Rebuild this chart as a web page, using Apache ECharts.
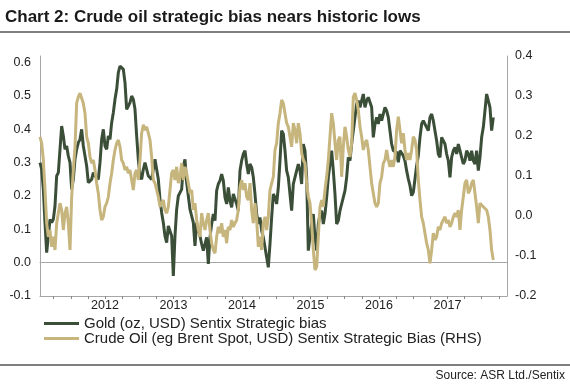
<!DOCTYPE html>
<html>
<head>
<meta charset="utf-8">
<script src="https://cdn.jsdelivr.net/npm/echarts@6/dist/echarts.min.js"></script>
<style>
html,body{margin:0;padding:0;background:#fff;}
#chart{width:570px;height:385px;}
</style>
</head>
<body>
<div id="chart"></div>
<script>
// Time axis: weekly-ish Sentix observations (decimal years), first obs late Jan 2011
const startYear = 2011.051;
const stepYears = 0.024331;
const yearLabels = [2012, 2013, 2014, 2015, 2016, 2017];
const leftTicks = [-0.1, 0.0, 0.1, 0.2, 0.3, 0.4, 0.5, 0.6];
const rightTicks = [-0.2, -0.1, 0.0, 0.1, 0.2, 0.3, 0.4];

const seriesNames = [
  'Gold (oz, USD) Sentix Strategic bias',
  'Crude Oil (eg Brent Spot, USD) Sentix Strategic Bias (RHS)'
];

// Gold strategic bias (LHS)
const goldBias = [
0.30,0.28,0.22,0.12,0.03,0.08,0.13,0.12,0.13,0.17,0.26,0.27,0.34,0.41,0.38,0.34,0.35,0.32,0.30,0.22,
0.25,0.31,0.34,0.36,0.37,0.40,0.35,0.32,0.29,0.24,0.24,0.25,0.27,0.26,0.26,0.25,0.30,0.37,0.40,0.35,
0.34,0.38,0.37,0.42,0.45,0.49,0.52,0.57,0.59,0.59,0.58,0.54,0.46,0.47,0.48,0.50,0.49,0.46,0.38,0.31,
0.26,0.25,0.28,0.30,0.28,0.26,0.26,0.25,0.28,0.31,0.28,0.25,0.19,0.15,0.12,0.08,0.06,0.11,0.11,0.08,
-0.04,0.08,0.16,0.20,0.21,0.22,0.29,0.31,0.24,0.20,0.16,0.14,0.12,0.05,0.12,0.10,0.08,
0.056,0.036,0.056,0.076,-0.004,0.076,0.116,0.146,0.126,0.216,0.236,0.246,0.266,0.246,0.196,0.176,0.226,0.186,0.166,0.206,
0.206,0.176,0.156,0.276,0.306,0.326,0.336,0.296,0.266,0.296,0.286,0.256,0.206,0.146,0.116,0.136,0.096,0.076,0.046,0.016,
-0.014,0.056,0.136,0.206,0.196,0.176,0.226,0.306,0.396,0.386,0.336,0.276,0.256,0.256,0.156,0.236,0.256,0.276,0.296,0.276,
0.236,0.356,0.336,0.256,0.036,0.036,0.116,0.146,0.076,0.036,0.116,0.146,0.156,0.116,0.146,0.196,0.256,0.296,0.336,0.276,
0.206,0.116,0.126,0.156,0.176,0.176,0.216,0.256,0.316,0.306,
0.356,0.396,0.436,0.476,0.486,0.466,0.486,0.506,0.466,0.486,0.496,0.496,0.466,0.376,0.416,0.436,0.416,0.446,0.426,0.446,
0.466,0.456,0.436,0.396,0.356,0.336,0.341,0.331,0.301,0.336,0.331,0.321,0.306,0.276,0.251,0.231,0.201,0.211,0.251,0.291,
0.321,0.376,0.416,0.426,0.426,0.406,0.396,0.436,0.446,0.426,0.396,0.366,0.326,0.316,0.376,0.376,0.356,0.326,0.306,0.256,
0.316,0.336,0.346,0.326,0.356,0.336,0.316,0.296,0.306,0.336,0.326,0.306,0.336,0.306,0.296,0.336,0.276,0.316,0.376,0.406,
0.456,0.506,0.486,0.466,0.396,0.436
];

// Crude oil strategic bias (RHS)
const oilBias = [
0.198,0.182,0.140,0.065,-0.018,-0.052,-0.035,-0.077,-0.052,-0.085,-0.018,0.007,0.032,0.015,-0.035,0.007,0.023,-0.018,-0.085,0.048,
0.115,0.173,0.282,0.298,0.307,0.311,0.282,0.257,0.198,0.182,0.148,0.132,0.140,0.115,0.082,0.057,0.015,-0.010,-0.002,0.023,
0.032,0.048,0.082,0.107,0.140,0.165,0.182,0.190,0.173,0.140,0.132,0.115,0.123,0.107,0.115,0.090,0.065,0.107,0.115,0.090,
0.140,0.207,0.228,0.215,0.223,0.207,0.190,0.148,0.090,0.082,0.065,0.048,0.023,0.032,0.040,0.015,0.007,0.023,0.065,0.107,
0.115,0.090,0.123,0.082,0.098,0.132,0.090,0.123,0.107,0.082,0.057,0.065,0.015,0.032,-0.010,-0.035,-0.052,
0.007,-0.018,-0.035,-0.010,0.007,-0.035,-0.068,-0.085,-0.093,-0.052,-0.027,-0.043,-0.018,-0.052,-0.035,-0.068,-0.027,-0.035,-0.010,-0.027,
-0.018,-0.010,0.015,0.073,0.090,0.065,0.082,0.048,0.040,0.082,0.015,-0.018,0.032,-0.010,-0.077,-0.052,-0.085,-0.018,-0.002,-0.035,
-0.002,0.065,0.065,0.098,0.165,0.182,0.232,0.257,0.290,0.282,0.257,0.232,0.223,0.198,0.173,0.232,0.215,0.182,0.232,0.207,
0.157,0.140,0.132,0.082,0.048,0.032,-0.018,-0.085,-0.135,-0.127,-0.052,0.023,0.040,0.023,0.065,0.098,0.140,0.198,0.257,0.232,
0.182,0.140,0.190,0.198,0.098,0.173,0.223,0.198,0.165,0.148,
0.182,0.298,0.307,0.290,0.265,0.223,0.198,0.165,0.182,0.190,0.165,0.123,0.082,0.057,0.032,0.023,0.032,0.082,0.098,0.132,
0.140,0.165,0.140,0.123,0.140,0.123,0.148,0.215,0.248,0.215,0.182,0.207,0.165,0.140,0.157,0.140,0.165,0.198,0.190,0.165,
0.090,0.040,-0.002,-0.018,-0.018,-0.068,-0.085,-0.118,-0.085,-0.043,-0.060,-0.052,-0.027,-0.035,-0.018,-0.018,-0.002,-0.018,-0.010,-0.027,
-0.018,-0.002,0.007,-0.002,0.015,-0.035,0.015,0.048,0.082,0.090,0.057,0.065,0.082,0.090,0.057,0.023,-0.018,0.032,0.032,0.023,
0.023,0.015,-0.002,-0.035,-0.085,-0.110
];

const dates = [];
for (let i = 0; i < goldBias.length; i++) dates.push(+(startYear + i * stepYears).toFixed(4));
const quarterTicks = [];
for (let y = 2011.25; y < 2017.9; y += 0.25) quarterTicks.push(+y.toFixed(2));

const goldData = dates.map((d, i) => [d, goldBias[i]]);
const oilData = dates.map((d, i) => [d, oilBias[i]]);

const FONT = 'Liberation Sans, Arial, sans-serif';
const GOLD = '#3b4f38';
const OIL = '#c7b57e';
const AXIS = '#a6a6a6';

const chart = echarts.init(document.getElementById('chart'), null, {renderer: 'canvas'});
chart.setOption({
  animation: false,
  backgroundColor: '#ffffff',
  title: [
    {text: 'Chart 2: Crude oil strategic bias nears historic lows', left: 5, top: 9, padding: 0,
     textStyle: {fontFamily: FONT, fontSize: 17, fontWeight: 'bold', color: '#1a1a1a'}},
    {text: 'Source: ASR Ltd./Sentix', right: 5, top: 370, padding: 0,
     textStyle: {fontFamily: FONT, fontSize: 12, fontWeight: 'normal', color: '#222'}}
  ],
  graphic: [
    {type: 'line', shape: {x1: 0, y1: 32, x2: 570, y2: 32}, style: {stroke: '#7f7f7f', lineWidth: 2}},
    {type: 'line', shape: {x1: 0, y1: 365, x2: 570, y2: 365}, style: {stroke: '#7f7f7f', lineWidth: 2}}
  ],
  legend: {
    orient: 'vertical', left: 44, top: 316, itemGap: 0, padding: 0,
    icon: 'rect', itemWidth: 35, itemHeight: 3,
    textStyle: {fontFamily: FONT, fontSize: 15, color: '#222', lineHeight: 15},
    data: seriesNames
  },
  grid: {left: 40, right: 63, top: 56, bottom: 89, containLabel: false},
  xAxis: [
    {type: 'value', min: startYear, max: 2017.869,
     axisLine: {show: true, onZero: false, lineStyle: {color: AXIS, width: 1}},
     axisTick: {show: true, customValues: quarterTicks, length: 3, inside: false, lineStyle: {color: '#888'}},
     axisLabel: {customValues: yearLabels, margin: 3, fontFamily: FONT, fontSize: 12.5, color: '#222',
                 formatter: v => String(Math.round(v))},
     splitLine: {show: false}},
    {type: 'value', min: startYear, max: 2017.869, position: 'bottom',
     axisLine: {show: true, onZero: true, onZeroAxisIndex: 0, lineStyle: {color: AXIS, width: 1}},
     axisTick: {show: false}, axisLabel: {show: false}, splitLine: {show: false}}
  ],
  yAxis: [
    {type: 'value', position: 'left', min: -0.1, max: 0.62,
     axisLine: {show: true, lineStyle: {color: AXIS}},
     axisTick: {show: false},
     axisLabel: {customValues: leftTicks, margin: 9, fontFamily: FONT, fontSize: 12.5, color: '#222',
                 formatter: v => v.toFixed(1)},
     splitLine: {show: false}},
    {type: 'value', position: 'right', min: -0.2, max: 0.4,
     axisLine: {show: true, lineStyle: {color: AXIS}},
     axisTick: {show: false},
     axisLabel: {customValues: rightTicks, margin: 8, fontFamily: FONT, fontSize: 12.5, color: '#222',
                 formatter: v => v.toFixed(1)},
     splitLine: {show: false}}
  ],
  series: [
    {name: seriesNames[0], type: 'line', xAxisIndex: 0, yAxisIndex: 0, data: goldData,
     showSymbol: false, symbol: 'none', color: GOLD, lineStyle: {color: GOLD, width: 3}, z: 3},
    {name: seriesNames[1], type: 'line', xAxisIndex: 0, yAxisIndex: 1, data: oilData,
     showSymbol: false, symbol: 'none', color: OIL, lineStyle: {color: OIL, width: 3}, z: 4}
  ]
});
</script>
</body>
</html>
